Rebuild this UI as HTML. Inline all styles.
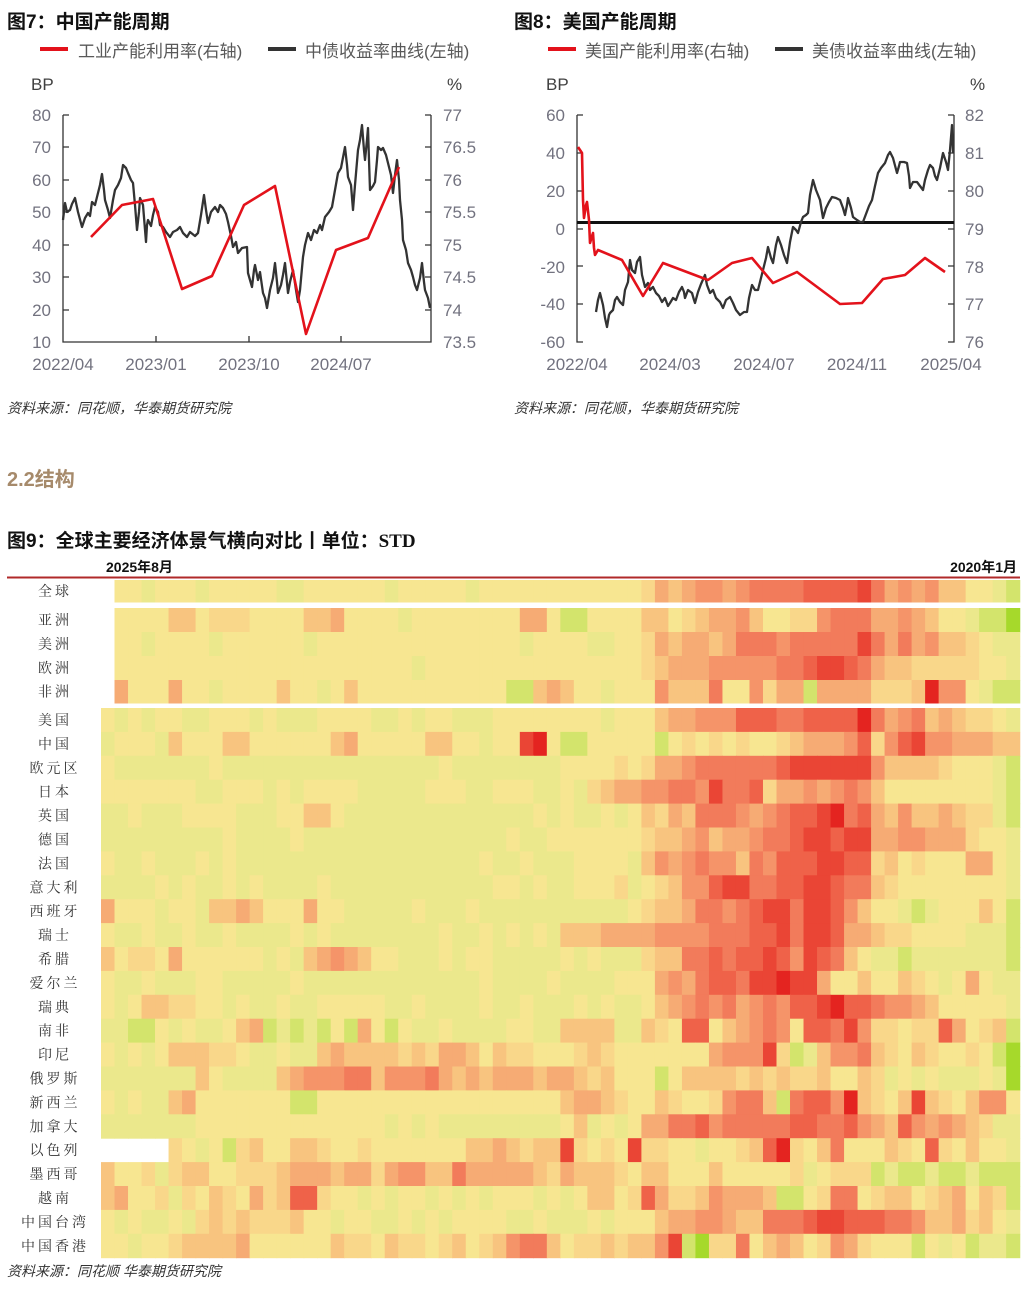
<!DOCTYPE html>
<html><head><meta charset="utf-8">
<style>
html,body{margin:0;padding:0;background:#fff;width:1026px;height:1289px;overflow:hidden}
svg{display:block}
.t{font-family:"Liberation Sans","Noto Sans CJK SC",sans-serif}
.lab{font-family:"Liberation Serif","Noto Serif CJK SC",serif;font-size:14px;fill:#333;letter-spacing:3px}
</style></head><body>
<svg id="s" width="1026" height="1289" viewBox="0 0 1026 1289" xmlns="http://www.w3.org/2000/svg">
<g class="t">
<!-- Chart 7 -->
<text x="7" y="28" font-size="19" font-weight="bold" fill="#111">图7：中国产能周期</text>
<line x1="40" y1="49" x2="68" y2="49" stroke="#e3121b" stroke-width="4"/>
<text x="78" y="57" font-size="17" fill="#595959">工业产能利用率(右轴)</text>
<line x1="268" y1="49" x2="296" y2="49" stroke="#333" stroke-width="4"/>
<text x="305" y="57" font-size="17" fill="#595959">中债收益率曲线(左轴)</text>
<text x="31" y="90" font-size="17" fill="#404040">BP</text>
<text x="447" y="90" font-size="17" fill="#404040">%</text>
<g font-size="17" fill="#72727f" text-anchor="end">
<text x="51" y="121">80</text><text x="51" y="153">70</text><text x="51" y="186">60</text><text x="51" y="218">50</text><text x="51" y="251">40</text><text x="51" y="283">30</text><text x="51" y="316">20</text><text x="51" y="348">10</text>
</g>
<g font-size="17" fill="#72727f">
<text x="443" y="121">77</text><text x="443" y="153">76.5</text><text x="443" y="186">76</text><text x="443" y="218">75.5</text><text x="443" y="251">75</text><text x="443" y="283">74.5</text><text x="443" y="316">74</text><text x="443" y="348">73.5</text>
</g>
<g stroke="#333" stroke-width="1.3" fill="none">
<path d="M63 115V342H431V115"/>
<path d="M63 115h6M63 147h6M63 180h6M63 212h6M63 245h6M63 277h6M63 310h6"/>
<path d="M431 115h-6M431 147h-6M431 180h-6M431 212h-6M431 245h-6M431 277h-6M431 310h-6"/>
<path d="M156 342v-6M249 342v-6M341 342v-6"/>
</g>
<g font-size="17" fill="#72727f" text-anchor="middle">
<text x="63" y="370">2022/04</text><text x="156" y="370">2023/01</text><text x="249" y="370">2023/10</text><text x="341" y="370">2024/07</text>
</g>
<polyline fill="none" stroke="#333" stroke-width="2.3" stroke-linejoin="round" points="63,220 65,203 67,212 70,210 72,204 75,198 78,212 82,227 85,218 88,213 90,216 92,202 95,205 98,193 100,185 102,174 104,190 105,200 108,210 110,218 113,200 115,190 118,185 121,178 123,165 126,168 128,173 131,180 133,183 135,205 137,230 139,212 140,198 143,205 146,242 147,225 148,220 151,226 153,215 155,207 158,212 160,225 163,227 166,232 170,237 173,232 177,230 180,227 183,233 187,237 190,232 195,236 198,233 201,215 204,195 206,210 208,223 211,212 215,207 218,212 220,205 223,208 226,214 228,222 231,236 233,247 236,242 238,253 242,248 247,247 248,273 250,280 252,287 254,270 255,265 258,280 260,272 263,293 265,298 267,308 269,296 270,290 273,278 275,263 277,282 278,293 281,285 283,275 285,263 287,283 288,293 290,282 293,270 296,290 298,302 300,290 303,257 305,245 308,233 311,240 314,230 317,233 320,225 322,230 325,217 329,212 332,207 335,190 338,173 341,168 345,147 347,165 348,177 351,185 353,210 355,185 358,150 360,140 362,125 364,150 365,160 367,140 368,128 369,160 370,190 373,186 375,182 377,160 378,147 381,150 383,148 386,155 388,163 391,175 393,193 395,175 397,160 399,180 400,200 402,220 403,240 406,250 408,263 411,270 413,277 415,285 417,290 420,278 422,263 424,282 425,290 428,298 430,308"/>
<polyline fill="none" stroke="#e3121b" stroke-width="2.6" stroke-linejoin="round" points="91,237 122,205 153,199 182,289 212,276 244,205 275,186 306,334 336,250 368,238 399,167"/>
<text x="7" y="413" font-size="14" font-style="italic" fill="#333">资料来源：同花顺，华泰期货研究院</text>

<!-- Chart 8 -->
<text x="514" y="28" font-size="19" font-weight="bold" fill="#111">图8：美国产能周期</text>
<line x1="548" y1="49" x2="576" y2="49" stroke="#e3121b" stroke-width="4"/>
<text x="585" y="57" font-size="17" fill="#595959">美国产能利用率(右轴)</text>
<line x1="775" y1="49" x2="803" y2="49" stroke="#333" stroke-width="4"/>
<text x="812" y="57" font-size="17" fill="#595959">美债收益率曲线(左轴)</text>
<text x="546" y="90" font-size="17" fill="#404040">BP</text>
<text x="970" y="90" font-size="17" fill="#404040">%</text>
<g font-size="17" fill="#72727f" text-anchor="end">
<text x="565" y="121">60</text><text x="565" y="159">40</text><text x="565" y="197">20</text><text x="565" y="235">0</text><text x="565" y="273">-20</text><text x="565" y="310">-40</text><text x="565" y="348">-60</text>
</g>
<g font-size="17" fill="#72727f">
<text x="965" y="121">82</text><text x="965" y="159">81</text><text x="965" y="197">80</text><text x="965" y="235">79</text><text x="965" y="273">78</text><text x="965" y="310">77</text><text x="965" y="348">76</text>
</g>
<g stroke="#333" stroke-width="1.3" fill="none">
<path d="M577 115V342h6M577 115h6M577 153h6M577 191h6M577 229h6M577 266h6M577 304h6"/>
<path d="M954 115V342h-6M954 115h-6M954 153h-6M954 191h-6M954 229h-6M954 266h-6M954 304h-6"/>
</g>
<line x1="577" y1="222.5" x2="954" y2="222.5" stroke="#111" stroke-width="3"/>
<g font-size="17" fill="#72727f" text-anchor="middle">
<text x="577" y="370">2022/04</text><text x="670" y="370">2024/03</text><text x="764" y="370">2024/07</text><text x="857" y="370">2024/11</text><text x="951" y="370">2025/04</text>
</g>
<polyline fill="none" stroke="#333" stroke-width="2.3" stroke-linejoin="round" points="596,312 598,300 600,293 603,305 605,318 607,327 609,315 610,313 613,310 615,300 617,297 620,302 623,305 625,290 628,282 630,260 632,270 635,273 637,262 640,257 642,275 645,287 648,283 650,290 653,287 656,293 659,296 662,302 665,298 668,306 670,303 673,298 676,300 679,292 682,287 684,292 685,298 688,290 692,293 694,300 695,303 698,292 701,284 705,275 707,285 710,293 713,290 716,298 720,302 723,308 726,300 730,297 733,303 736,310 740,315 744,312 747,312 749,298 752,285 755,290 758,290 761,278 763,270 766,258 768,247 771,258 773,263 776,245 778,237 781,245 784,255 787,263 790,242 793,227 796,230 798,233 801,222 803,217 806,215 808,213 810,195 813,180 816,190 820,200 822,212 823,218 826,208 829,202 832,197 836,198 840,200 843,208 845,215 847,205 848,198 851,208 853,217 857,220 860,222 863,222 866,214 869,206 872,200 875,186 878,173 881,168 885,163 888,155 890,152 893,158 897,173 899,166 900,162 904,162 907,163 909,176 910,188 913,182 917,182 920,186 923,190 925,180 928,170 930,165 933,168 935,176 937,180 940,168 943,153 946,162 948,170 950,150 952,125 953,153"/>
<polyline fill="none" stroke="#e3121b" stroke-width="2.6" stroke-linejoin="round" points="578,147 580,150 582,153 583,200 584,218 586,205 587,202 589,220 590,243 592,236 593,233 594,248 595,255 598,250 622,260 643,296 663,263 708,280 732,263 752,258 773,283 797,272 840,304 862,303 883,279 905,275 925,258 945,272"/>
<text x="514" y="413" font-size="14" font-style="italic" fill="#333">资料来源：同花顺，华泰期货研究院</text>

<!-- Section -->
<text x="7" y="486" font-size="20" font-weight="bold" fill="#a68a6b">2.2结构</text>
<text x="7" y="547" font-size="19" font-weight="bold" fill="#111">图9：全球主要经济体景气横向对比丨单位：<tspan font-family="Liberation Serif,serif">STD</tspan></text>
<text x="106" y="572" font-size="14" font-weight="bold" fill="#111">2025年8月</text>
<text x="1017" y="572" font-size="14" font-weight="bold" fill="#111" text-anchor="end">2020年1月</text>
<line x1="7" y1="577.5" x2="1020" y2="577.5" stroke="#b02a2a" stroke-width="2"/>
<g id="hm"></g>
<text x="7" y="1276" font-size="14" font-style="italic" fill="#333">资料来源：同花顺 华泰期货研究院</text>
</g>
</svg>
<script>
var C={w:'#ffffff',c:'#a6d92b',b:'#d3e46c',a:'#ebe88c','1':'#f7e691','2':'#f9d78a','3':'#f8c47f','4':'#f6ab74','5':'#f59469','6':'#f27b5b','7':'#ef6249','8':'#ea4535','9':'#e42420'};
var rows=[
['全 球',580,22,'w11a111a11111aa111111a11111a11111111111','2434554566667777864545331 1ab'.replace(' ','')],
['亚 洲',608,24,'w1111331222111133411 11a1111111 1441bb1111'.replace(/ /g,''),'33123445311225666445 4311abbc'.replace(' ','')],
['美 洲',632,24,'w11a1111a111111a111111111111111a1111aa','24344346665666668646453321aa'],
['欧 洲',656,24,'w1111111111111111111111a111111111111111','234445555566788764332222211a'],
['非 洲',680,23,'w4111411a111131 1a1311111111111bb34311a11'.replace(' ',''),'1533361152 44b4444222 3955 1abb'.replace(/ /g,'')],
];
var cn=[['美 国','1a1a11aa111a1aaa1111aa1a11aaa11111111a11','1344555777667777964563432 21a'.replace(' ','')],
['中 国','a111a311133111111341111133 11a11891bb1111'.replace(' ',''),'1b1212121123444572578554443'+'3'],
['欧元区','1aaaaaaa1aaaaaaaaaaaaaaaa1aaaaaaaa11112','2445666666788888853333 2111ab'.replace(' ','')],
['日 本','1111111aa111a1a1111aaaaa111aa111aa1a2344','55665866724454565311111111abcb'.slice(0,28)],
['英 国','aa1aaa1111aaa11331aaaaaaaaaaaaaa1a1aa1a','3243666545677896743533 4322ab'.replace(' ','')],
['德 国','aaaaaaaaa1aaaa1aaaaaaaaaaaaaaa1aa1111111','233453445667887884455444211a'],
['法 国','1aa1aaa1a1aaaaaaaaaaaaaaaaaa1aa1aaa1111a','354565536577788772312111441a'],
['意大利','aaaa1a1aa1a1aaaa1aaaaaaaaaaaa11a1aa1112a','12355788667788766321 1111111a'.replace(' ','')],
['西班牙','4111a11a3343111411aaaaa1aaa1aaaaaaaaaaa1','2334665678868875311aba11131b'],
['瑞 士','1aa1aa1aa1aaaa1a1aaaaaaaa1aa1a1a1a333444','455556667786887443221111aaab'],
['希 腊','312214111111a1a34543 11aaa1a11aaaaa1a1aaa'.replace(' ',''),'23366767787587631aabaaaaaaab'],
['爱尔兰','1aa1aaa11aaaaa1aaaaaaaaaaaaa1aaaa1aaaa1','145467768898841131132 1a141aa'.replace(' ','')],
['瑞 典','1a1332211a1aa1aa11111aa1aaaa1aa1aaa1a1aa','13456564565778977655 4311111a'.replace(' ','')],
['南 非','aabb1a1aa134babab1b41b1aa1aaaa11aa3333aa1'.slice(0,40),'321771345651776852212274123b'],
['印 尼','1a1a1333221aa1aa343333232443132211123211','1111145558 2ba3556321321121bc'.replace(' ','')],
['俄罗斯','aaaaaaa31aaaa34555663555643434 4434432311'.replace(' ',''),'1b1333323232231132a1a1aaa1ac'],
['新西兰','1a1aa341111111bb111111111111111111344321','1321125663b67759321383213551'],
['加拿大','aaaaaaa11111111111111a1a1aaaaaaaaa13a1a1','446675666667766754375454 32aa'.replace(' ','')],
['以色列','wwwww21a1b231133211211111113343233821218','2211a112379213611132 1721311a'.replace(' ','')],
['墨西哥','3112a2331122234443442455336444443243332 1'.replace(' ',''),'331113111112a1222babbabbabbb'],
['越 南','34112a2132142377211a1a11a1a1a111a1a13312','7422354443bb126612331234132b'],
['中国台湾','1a1aa1a23232223 11a11aa1a1a1111aa1aaa1a11'.replace(' ',''),'134455433666788777665334231a'],
['中国香港','11a112333341111113221322123123 5663122323'.replace(' ',''),'358bc226134312542111b1a1baab']];
for(var i=0;i<cn.length;i++){rows.push([cn[i][0],708+i*23.9,23.9,cn[i][1],cn[i][2]]);}
var g=document.getElementById('hm'),ns='http://www.w3.org/2000/svg',cw=13.51;
function pad(s,n,f){s=s.slice(0,n);while(s.length<n)s+=f;return s;}
rows.forEach(function(r){
  var str=pad(r[3],40,'1')+pad(r[4],28,'1');
  for(var j=0;j<68;j++){
    var ch=str[j];if(ch=='w')continue;
    var e=document.createElementNS(ns,'rect');
    var x0=101+j*cw;
    e.setAttribute('x',x0.toFixed(2));e.setAttribute('y',r[1].toFixed(2));
    e.setAttribute('width',(cw+0.6).toFixed(2));e.setAttribute('height',(r[2]+0.5).toFixed(2));
    e.setAttribute('fill',C[ch]||C['1']);g.appendChild(e);
  }
  var t=document.createElementNS(ns,'text');
  t.setAttribute('x',55);t.setAttribute('y',(r[1]+r[2]/2+5).toFixed(1));
  t.setAttribute('text-anchor','middle');t.setAttribute('class','lab');
  t.textContent=r[0].replace(/ /g,'');g.appendChild(t);
});
</script>
</body></html>
